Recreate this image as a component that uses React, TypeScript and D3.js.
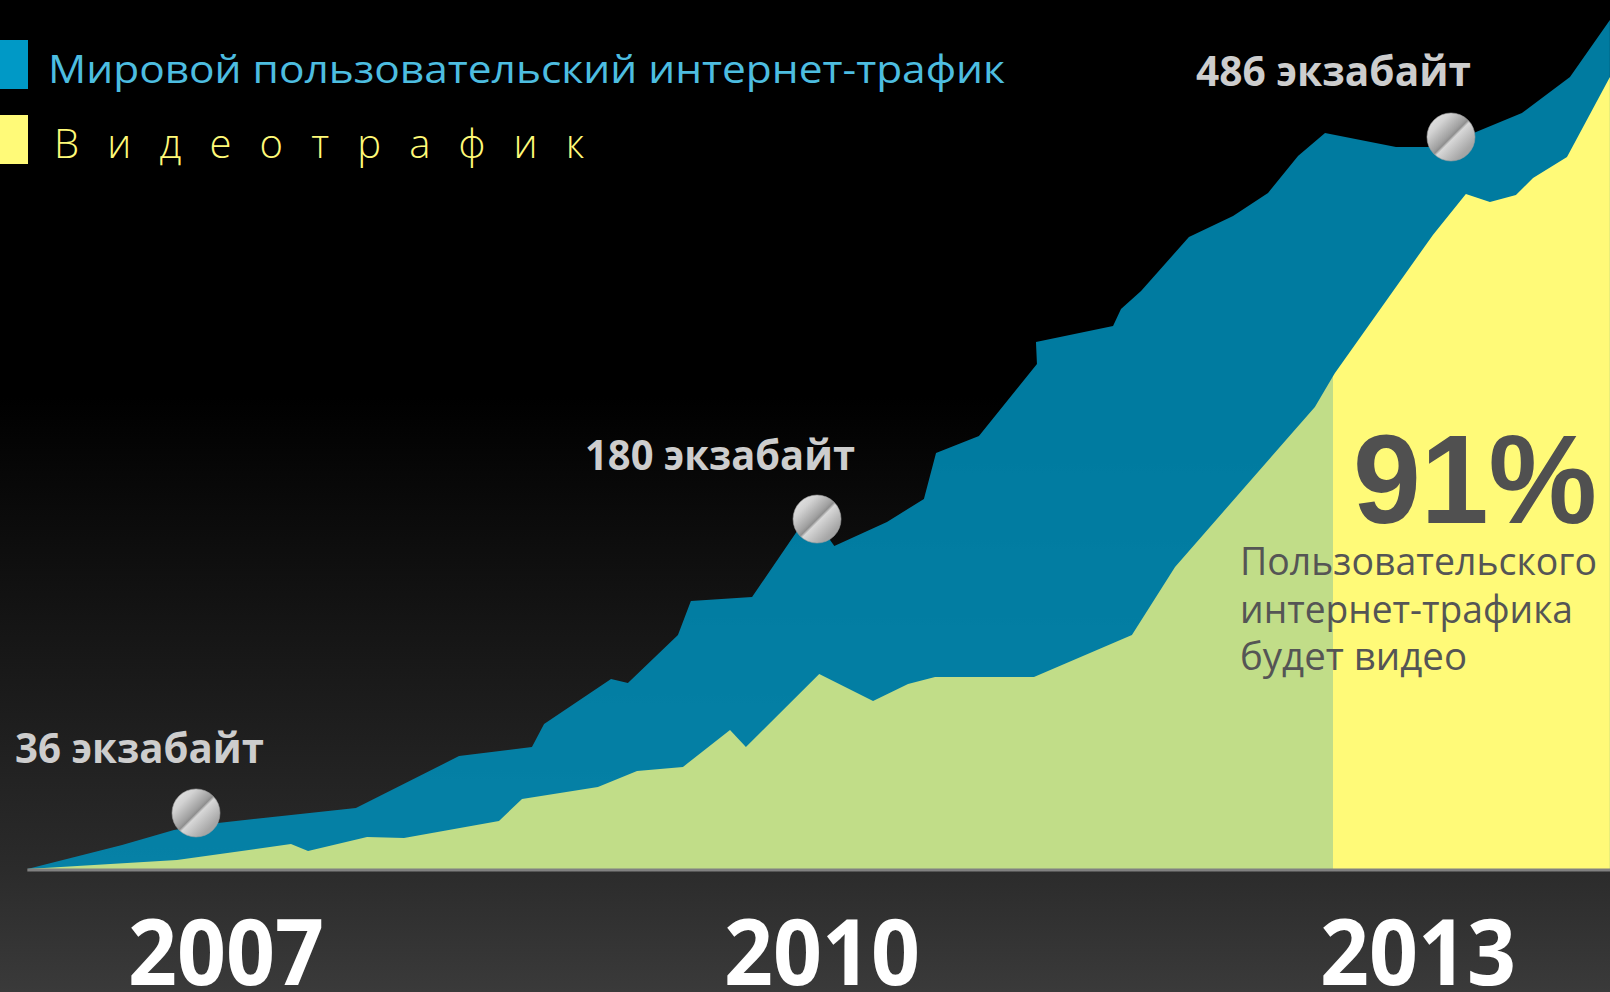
import React from "react";
import * as d3 from "d3";

const W = 1610;
const H = 992;

// ---- Data (fractional years, traffic in relative units) ----
const TOTAL_YEARS = [
  2006.0, 2006.477, 2006.738, 2006.96, 2007.654, 2008.173, 2008.54, 2008.601, 2008.938, 2009.023,
  2009.275, 2009.34, 2009.648, 2009.94, 2010.062, 2010.327, 2010.513, 2010.574, 2010.79, 2011.082,
  2011.077, 2011.465, 2011.505, 2011.606, 2011.847, 2012.069, 2012.245, 2012.396, 2012.532, 2012.889,
  2013.11, 2013.523, 2013.765, 2013.966,
];
const TOTAL_VALUES = [
  0, 14.1, 23.0, 27.1, 35.9, 66.5, 71.8, 85.4, 111.9, 109.5,
  137.8, 157.8, 160.2, 210.2, 190.2, 204.4, 217.9, 245.0, 255.0, 297.4,
  310.4, 319.8, 329.8, 340.4, 372.2, 384.6, 398.1, 419.9, 433.5, 425.2,
  425.2, 445.2, 466.4, 500,
];
const VIDEO_YEARS = [
  2006.0, 2006.753, 2007.327, 2007.413, 2007.71, 2007.896, 2008.374, 2008.49, 2008.872, 2009.069,
  2009.3, 2009.537, 2009.617, 2009.986, 2010.257, 2010.433, 2010.569, 2011.067, 2011.56, 2011.777,
  2012.481, 2012.582, 2013.075, 2013.241, 2013.362, 2013.493, 2013.579, 2013.75, 2013.966,
];
const VIDEO_VALUES = [
  0, 5.3, 14.7, 10.6, 18.8, 18.3, 28.3, 41.2, 48.3, 57.7,
  60.1, 81.9, 71.8, 114.8, 98.9, 109.0, 113.1, 113.1, 137.8, 177.9,
  272.1, 292.1, 373.4, 397.5, 392.8, 396.9, 406.9, 419.3, 466.4,
];
const FORECAST_START = 2012.572;

const MARKER_YEARS = [2006.849, 2009.975, 2013.166];
const MARKER_VALUES = [33.0, 206.1, 431.1];
const MARKER_LABELS = ["36 экзабайт", "180 экзабайт", "486 экзабайт"];

const YEAR_TICKS = [2007, 2010, 2013];
const LEGEND_LABELS = ["Мировой пользовательский интернет-трафик", "В и д е о т р а ф и к"];
const CALLOUT_VALUE = "91%";
const CALLOUT_LINES = ["Пользовательского", "интернет-трафика", "будет видео"];

// ---- Layout / style ----
const LABEL_LAYOUT = [
  { dx: -181, dy: -50, w: 249 },
  { dx: -232, dy: -49, w: 270 },
  { dx: -255, dy: -51, w: 275 },
];
const CALLOUT_LINE_WIDTHS = [357, 333, 227];
const SANS = "'Open Sans', 'Noto Sans', 'DejaVu Sans', sans-serif";

export default function App() {
  const x = d3.scaleLinear().domain([2007, 2013]).range([226, 1418]);
  const y = d3.scaleLinear().domain([0, 500]).range([869, 20]);

  const total: [number, number][] = TOTAL_YEARS.map((t, i) => [t, TOTAL_VALUES[i]]);
  const video: [number, number][] = VIDEO_YEARS.map((t, i) => [t, VIDEO_VALUES[i]]);

  const area = d3
    .area<[number, number]>()
    .x((d) => x(d[0]))
    .y0(y(0))
    .y1((d) => y(d[1]))
    .curve(d3.curveLinear);

  const split = x(FORECAST_START);
  const x0 = x(TOTAL_YEARS[0]);

  return (
    <svg
      width={W}
      height={H}
      viewBox={`0 0 ${W} ${H}`}
      style={{ position: "absolute", left: 0, top: 0, display: "block" }}
    >
      <defs>
        <linearGradient id="bg" x1="0" y1="0" x2="0" y2="1">
          <stop offset="0" stopColor="#000" />
          <stop offset="0.4" stopColor="#000" />
          <stop offset="0.876" stopColor="#2b2b2b" />
          <stop offset="1" stopColor="#3a3a3a" />
        </linearGradient>
        <linearGradient id="metal" x1="0" y1="0" x2="1" y2="1">
          <stop offset="0" stopColor="#ececec" />
          <stop offset="0.25" stopColor="#d2d2d2" />
          <stop offset="0.46" stopColor="#a0a0a0" />
          <stop offset="0.5" stopColor="#8f8f8f" />
          <stop offset="0.54" stopColor="#d8d8d8" />
          <stop offset="0.8" stopColor="#a6a6a6" />
          <stop offset="1" stopColor="#9c9c9c" />
        </linearGradient>
        <clipPath id="clip-past">
          <rect x={0} y={0} width={split} height={H} />
        </clipPath>
        <clipPath id="clip-future">
          <rect x={split} y={0} width={W - split} height={H} />
        </clipPath>
      </defs>

      <rect x={0} y={0} width={W} height={H} fill="url(#bg)" />

      {/* total traffic */}
      <path d={area(total) || ""} fill="rgb(0,143,186)" fillOpacity={0.86} />
      {/* video traffic */}
      <path d={area(video) || ""} fill="#c1dd88" clipPath="url(#clip-past)" />
      <path d={area(video) || ""} fill="#fffa78" clipPath="url(#clip-future)" />

      {/* baseline */}
      <line x1={x0} x2={W} y1={y(0) + 1} y2={y(0) + 1} stroke="#808080" strokeWidth={3} />

      {/* markers + labels */}
      {MARKER_YEARS.map((t, i) => (
        <g key={i}>
          <circle cx={x(t)} cy={y(MARKER_VALUES[i])} r={24} fill="url(#metal)" stroke="#a0a0a0" strokeWidth={0.6} />
          <text
            x={x(t) + LABEL_LAYOUT[i].dx}
            y={y(MARKER_VALUES[i]) + LABEL_LAYOUT[i].dy}
            fontFamily={SANS}
            fontWeight={700}
            fontSize={42}
            fill="#cdcdcd"
            textLength={LABEL_LAYOUT[i].w}
            lengthAdjust="spacingAndGlyphs"
          >
            {MARKER_LABELS[i]}
          </text>
        </g>
      ))}

      {/* year labels */}
      {YEAR_TICKS.map((t) => (
        <text
          key={t}
          x={x(t)}
          y={985}
          textAnchor="middle"
          fontFamily={SANS}
          fontWeight={700}
          fontSize={92}
          fill="#ffffff"
          textLength={196}
          lengthAdjust="spacingAndGlyphs"
        >
          {String(t)}
        </text>
      ))}

      {/* legend */}
      <rect x={0} y={40} width={28} height={49} fill="#0099c6" />
      <text
        x={48}
        y={83}
        fontFamily={SANS}
        fontSize={39}
        fill="#4dbde0"
        textLength={957}
        lengthAdjust="spacingAndGlyphs"
      >
        {LEGEND_LABELS[0]}
      </text>
      <rect x={0} y={115} width={28} height={49} fill="#fffa78" />
      <text
        x={54}
        y={158}
        fontFamily={SANS}
        fontWeight={300}
        fontSize={40}
        fill="#fffa78"
        textLength={530}
        lengthAdjust="spacing"
      >
        {LEGEND_LABELS[1]}
      </text>

      {/* callout */}
      <text
        x={1353}
        y={523}
        fontFamily="'Liberation Sans', Arial, sans-serif"
        fontWeight={700}
        fontSize={126}
        fill="#505050"
        textLength={244}
        lengthAdjust="spacingAndGlyphs"
      >
        {CALLOUT_VALUE}
      </text>
      {CALLOUT_LINES.map((line, i) => (
        <text
          key={i}
          x={1240}
          y={575 + i * 47.5}
          fontFamily={SANS}
          fontSize={38}
          fill="#555555"
          textLength={CALLOUT_LINE_WIDTHS[i]}
          lengthAdjust="spacingAndGlyphs"
        >
          {line}
        </text>
      ))}
    </svg>
  );
}
